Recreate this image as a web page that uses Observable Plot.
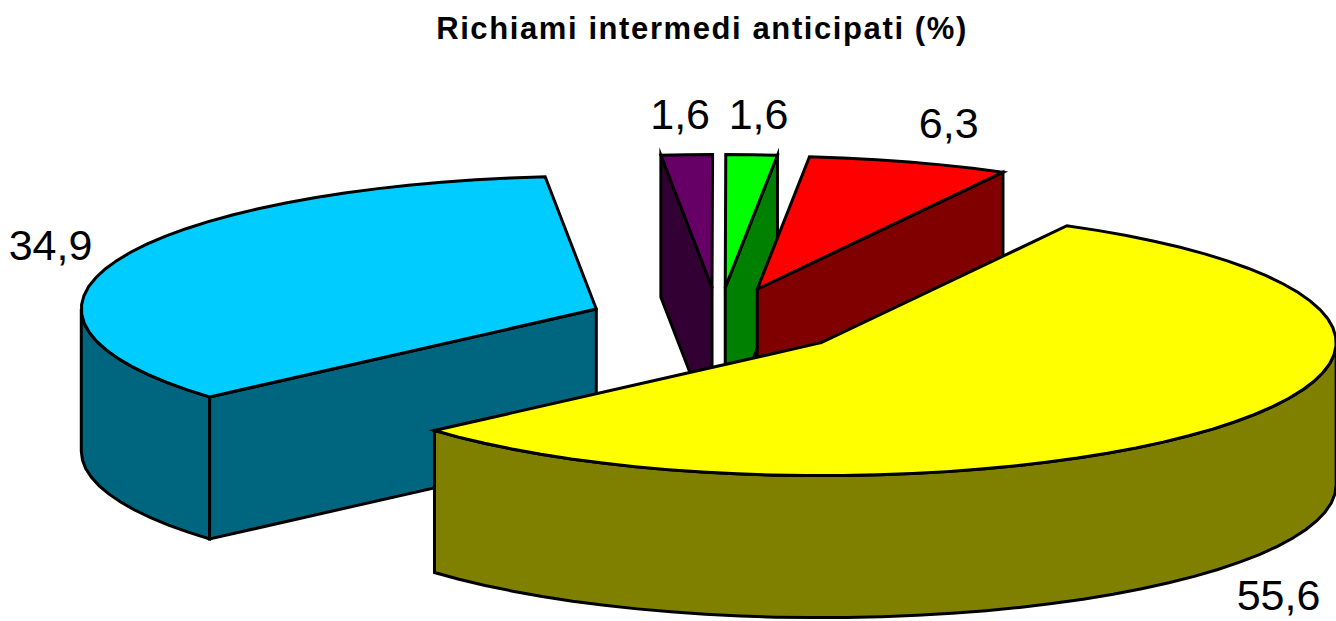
<!DOCTYPE html>
<html><head><meta charset="utf-8">
<script src="https://cdn.jsdelivr.net/npm/d3@7"></script>
<script src="https://cdn.jsdelivr.net/npm/@observablehq/plot@0.6"></script>
<style>
html,body{margin:0;padding:0;background:#fff;overflow:hidden;}
#title{height:60px;box-sizing:border-box;padding-top:9px;text-align:center;font:bold 31px "Liberation Sans",Arial,sans-serif;letter-spacing:1.6px;color:#000;line-height:40px;width:1404px;white-space:nowrap;}
#chart svg{display:block;}
</style></head><body>
<div id="title">Richiami intermedi anticipati (%)</div>
<div id="chart"></div>
<script>
const categories = ["Giallo", "Azzurro", "Viola", "Verde", "Rosso"];
const values = [55.6, 34.9, 1.6, 1.6, 6.3];
const labels = ["55,6", "34,9", "1,6", "1,6", "6,3"];
const topColors = ["#ffff00", "#00ccff", "#660066", "#00ff00", "#ff0000"];
const sideColors = ["#808000", "#006680", "#330033", "#008000", "#800000"];

const W = 1336, H = 561;
const rx = 515, ry = 133, cx = 718, cy = 261;
const depth = 142 / ry, explode = 0.255, firstAngle = 28.5;
const rad = d => d * Math.PI / 180;
const total = d3.sum(values);

let a = firstAngle;
const slices = values.map((v, i) => {
  const start = a, end = a + v / total * 360;
  a = end;
  const mid = rad((start + end) / 2);
  return {i, start, end, ox: explode * Math.sin(mid), oy: explode * Math.cos(mid), mid};
});

const faces = [];
function add(id, fill, pts) {
  pts.push(pts[0]);
  pts.forEach(([x, y]) => faces.push({id, fill, x, y}));
}
function rim(s, d0, d1, z) {
  const n = Math.max(1, Math.ceil(Math.abs(d1 - d0) / 4));
  return d3.range(n + 1).map(k => {
    const t = rad(d0 + (d1 - d0) * k / n);
    return [s.ox + Math.sin(t), s.oy + Math.cos(t) - z];
  });
}
// back to front: viola, verde, rosso, azzurro, giallo
[2, 3, 4, 1, 0].forEach(i => {
  const s = slices[i];
  const apex = [s.ox, s.oy];
  const side = sideColors[i];
  // outer wall: front half of the ellipse only
  for (const [lo, hi] of [[90, 270], [450, 630]]) {
    const b0 = Math.max(s.start, lo), b1 = Math.min(s.end, hi);
    if (b1 > b0) add(`w${i}${lo}`, side, [...rim(s, b0, b1, 0), ...rim(s, b1, b0, depth)]);
  }
  // radial walls that face the viewer
  const wall = (deg, tag) => {
    const p = rim(s, deg, deg, 0)[0];
    add(`r${i}${tag}`, side, [apex, p, [p[0], p[1] - depth], [apex[0], apex[1] - depth]]);
  };
  if (Math.sin(rad(s.start)) < -0.02) wall(s.start, "a");
  if (Math.sin(rad(s.end)) > 0.02) wall(s.end, "b");
  add(`t${i}`, topColors[i], [apex, ...rim(s, s.start, s.end, 0)]);
});

// labels sit beyond the rim, along the slice's middle direction, kept inside the frame
const labelData = slices.map((s, i) => {
  const low = Math.cos(s.mid) < 0;
  const px = Math.max(-668 / rx, Math.min(560 / rx, 1.515 * Math.sin(s.mid)));
  return {text: labels[i], x: px, y: 1.55 * Math.cos(s.mid) - (low ? depth * 1.03 : 0)};
});

const chart = Plot.plot({
  width: W, height: H,
  marginTop: 0, marginRight: 0, marginBottom: 0, marginLeft: 0,
  x: {domain: [-cx / rx, (W - cx) / rx], range: [0, W], axis: null},
  y: {domain: [cy / ry, (cy - H) / ry], range: [0, H], axis: null},
  color: {type: "identity"},
  marks: [
    Plot.line(faces, {x: "x", y: "y", z: "id", fill: "fill", stroke: "#000", strokeWidth: 3,
      strokeLinejoin: "miter", strokeMiterlimit: 10, curve: "linear"}),
    Plot.text(labelData, {x: "x", y: "y", text: "text", fontSize: 43, fill: "#000",
      fontFamily: "Liberation Sans, Arial, sans-serif", textAnchor: "middle", lineAnchor: "middle"})
  ]
});
document.getElementById("chart").append(chart);
</script>
</body></html>
